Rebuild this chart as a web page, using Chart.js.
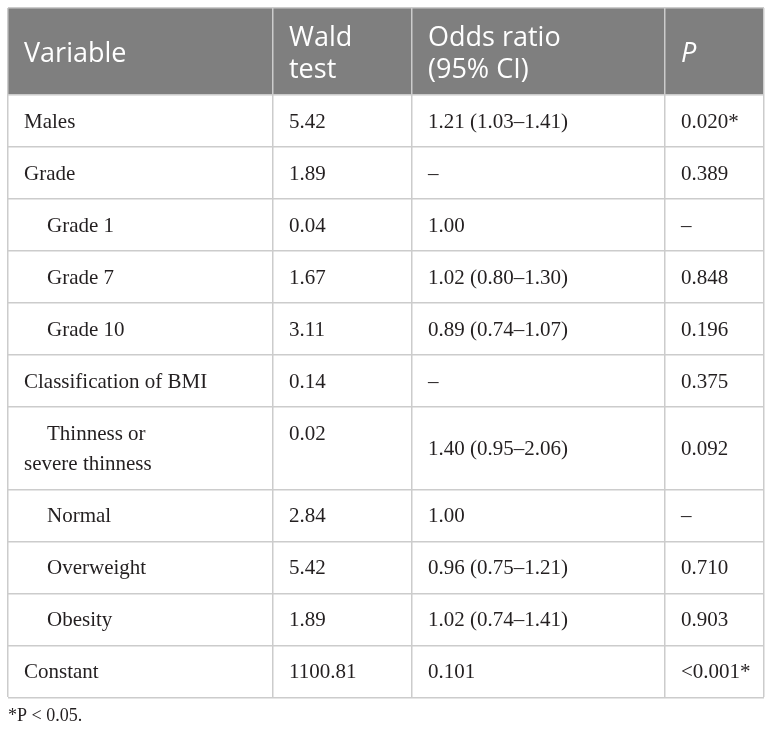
<!DOCTYPE html>
<html>
<head>
<meta charset="utf-8">
<script src="https://cdn.jsdelivr.net/npm/chart.js@4.4.0/dist/chart.umd.min.js"></script>
<style>
	html, body { margin: 0; padding: 0; background: #ffffff; }
	#wrap { width: 772px; height: 732px; }
</style>
</head>
<body>
<div id="wrap"><canvas id="myTable" width="772" height="732"></canvas></div>
<script>
// table contents
const headers = ['Variable', 'Wald\ntest', 'Odds ratio\n(95% CI)', 'P'];
const variables = ['Males', 'Grade', 'Grade 1', 'Grade 7', 'Grade 10', 'Classification of BMI',
	'Thinness or\nsevere thinness', 'Normal', 'Overweight', 'Obesity', 'Constant'];
const subgroup = [false, false, true, true, true, false, true, true, true, true, false];
const waldTest = ['5.42', '1.89', '0.04', '1.67', '3.11', '0.14', '0.02', '2.84', '5.42', '1.89', '1100.81'];
const oddsRatio = ['1.21 (1.03–1.41)', '–', '1.00', '1.02 (0.80–1.30)', '0.89 (0.74–1.07)', '–',
	'1.40 (0.95–2.06)', '1.00', '0.96 (0.75–1.21)', '1.02 (0.74–1.41)', '0.101'];
const pValues = ['0.020*', '0.389', '–', '0.848', '0.196', '0.375', '0.092', '–', '0.710', '0.903', '<0.001*'];
const footnote = '*P < 0.05.';

// layout (table units = px)
const colEdges = [0, 265, 404, 657, 756];
const headerH = 87, rowH = 52, lineStep = 30, pad = 16, indent = 23;

const columns = [variables, waldTest, oddsRatio, pValues];
const lineCount = variables.map(v => v.split('\n').length);
const rowHeights = lineCount.map(n => rowH + (n - 1) * lineStep);
const rowEdges = [0, headerH];
rowHeights.forEach(h => rowEdges.push(rowEdges[rowEdges.length - 1] + h));
const tableH = rowEdges[rowEdges.length - 1];

const headerSet = {
	label: 'header',
	data: headers.map((h, c) => ({ x: colEdges[c] + pad, y: headerH / 2 })),
	texts: headers
};
const bodySets = columns.map((col, c) => ({
	label: 'col' + c,
	data: col.map((t, r) => ({
		x: colEdges[c] + pad,
		// odds ratio and P are centred in the tall row
		y: rowEdges[r + 1] + (c >= 2 ? (rowHeights[r] - rowH) / 2 : 0)
	})),
	texts: col
}));

const cellText = {
	id: 'cellText',
	beforeDraw(chart) {
		const { ctx } = chart;
		const x = chart.scales.x, y = chart.scales.y;
		ctx.save();
		ctx.fillStyle = '#7f7f7f';
		ctx.fillRect(x.getPixelForValue(0), y.getPixelForValue(0),
			x.getPixelForValue(colEdges[4]) - x.getPixelForValue(0),
			y.getPixelForValue(headerH) - y.getPixelForValue(0));
		ctx.restore();
	},
	afterDatasetsDraw(chart) {
		const { ctx } = chart;
		ctx.save();
		ctx.textAlign = 'left';
		ctx.textBaseline = 'alphabetic';
		chart.data.datasets.forEach((ds, i) => {
			const meta = chart.getDatasetMeta(i);
			meta.data.forEach((el, j) => {
				const lines = ds.texts[j].split('\n');
				if (ds.label === 'header') {
					ctx.fillStyle = '#ffffff';
					ctx.font = (j === 3 ? 'italic ' : '') + '27px "Open Sans"';
					lines.forEach((ln, k) => {
						ctx.fillText(ln, el.x, el.y + 10 + (k - (lines.length - 1) / 2) * 32);
					});
				} else {
					ctx.fillStyle = '#231f20';
					ctx.font = '21px "Liberation Serif"';
					lines.forEach((ln, k) => {
						// only the first line of a sub-item is indented
						const dx = ds.label === 'col0' && subgroup[j] && k === 0 ? indent : 0;
						ctx.fillText(ln, el.x + dx, el.y + 33 + k * lineStep);
					});
				}
			});
		});
		ctx.restore();
	}
};

const gridOpts = { color: '#cccccc', lineWidth: 1.5, drawTicks: false };

new Chart(document.getElementById('myTable'), {
	type: 'scatter',
	data: {
		datasets: [headerSet, ...bodySets].map(ds => Object.assign(ds, { pointRadius: 0, pointHoverRadius: 0 }))
	},
	options: {
		responsive: false,
		animation: false,
		events: [],
		layout: { padding: { top: 8, left: 8, right: 8, bottom: 0 } },
		plugins: {
			legend: { display: false },
			tooltip: { enabled: false },
			title: {
				display: true,
				text: footnote,
				position: 'bottom',
				align: 'start',
				color: '#231f20',
				font: { family: '"Liberation Serif"', size: 18, weight: 'normal' },
				padding: { top: 8, bottom: 5 }
			}
		},
		scales: {
			x: {
				type: 'linear', min: 0, max: colEdges[4],
				afterBuildTicks: s => { s.ticks = colEdges.map(v => ({ value: v })); },
				ticks: { display: false },
				border: { display: false },
				grid: gridOpts
			},
			y: {
				type: 'linear', min: 0, max: tableH, reverse: true,
				afterBuildTicks: s => { s.ticks = rowEdges.map(v => ({ value: v })); },
				ticks: { display: false },
				border: { display: false },
				grid: gridOpts
			}
		}
	},
	plugins: [cellText]
});
</script>
</body>
</html>
